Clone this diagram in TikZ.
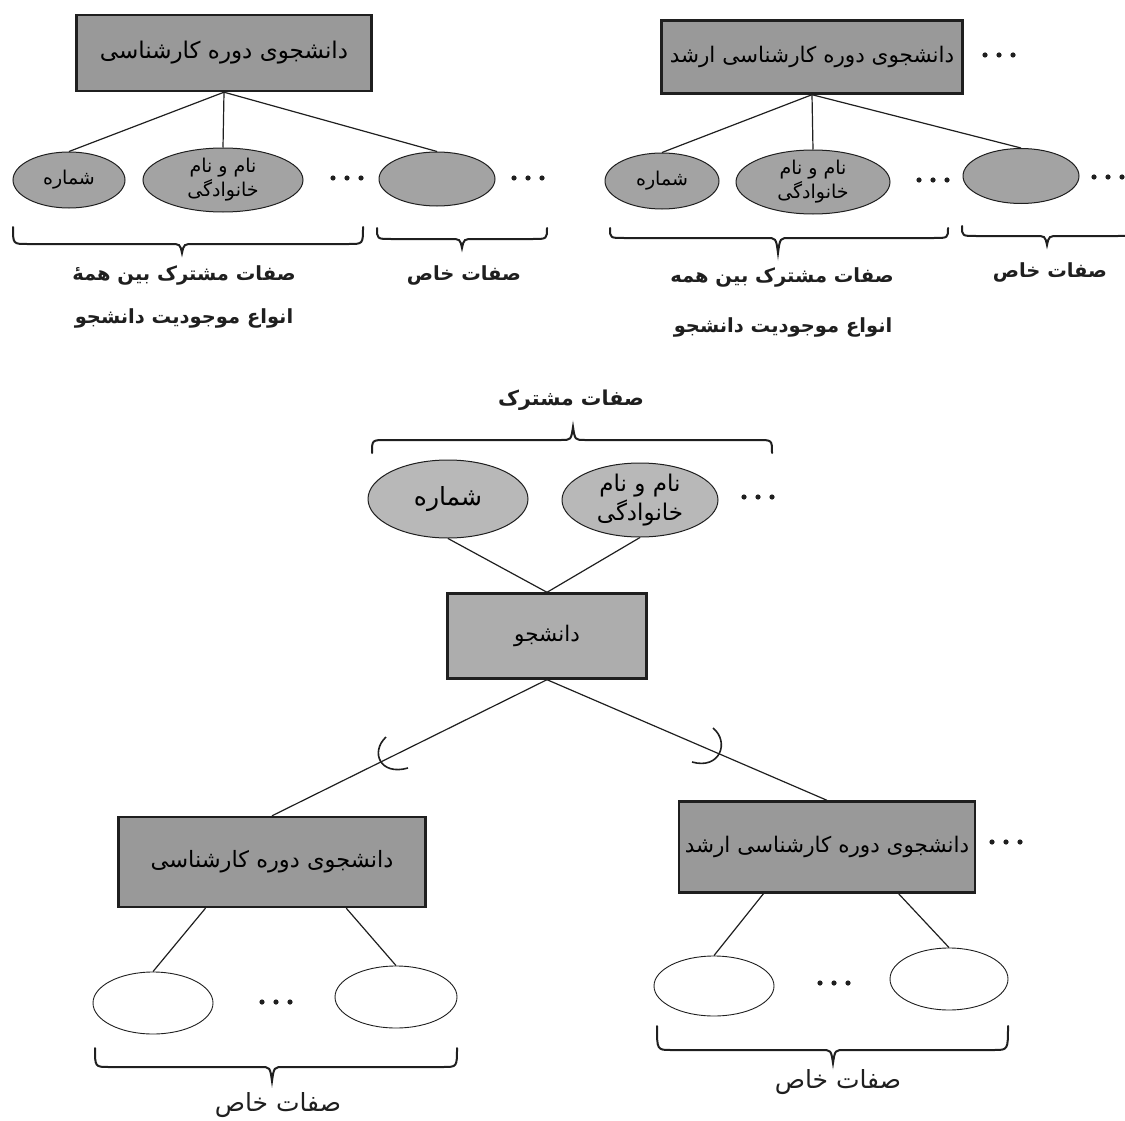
\documentclass[tikz,border=0pt]{standalone}
\usepackage{fontspec}
\usetikzlibrary{shapes.geometric,calc}
\newfontfamily\arabicfont[Script=Arabic]{DejaVu Sans}
\TeXXeTstate=1
\newcommand\fa[1]{{\arabicfont\beginR #1\endR}}
\definecolor{rectfill}{gray}{0.60}
\definecolor{ellfill}{gray}{0.64}
\definecolor{midell}{gray}{0.72}
\definecolor{midrect}{gray}{0.68}
\definecolor{ink}{gray}{0.12}
% brace: x1, x2, y of ends, y of bar, x of tip, y of tip
\newcommand\bracepath[6]{%
  \draw[bracestyle] (#1,#3) .. controls (#1,#4) .. (#1+14,#4) -- (#5-12,#4)
    .. controls (#5-2,#4) .. (#5,#6) .. controls (#5+2,#4) .. (#5+12,#4)
    -- (#2-14,#4) .. controls (#2,#4) .. (#2,#3);}
\newcommand\threedots[2]{%
  \fill[ink] (#1-14,#2) circle[radius=2.6pt] (#1,#2) circle[radius=2.6pt] (#1+14,#2) circle[radius=2.6pt];}
\begin{document}
\begin{tikzpicture}[x=1pt,y=-1pt,
  ent/.style={rectangle,draw=ink,line width=2.4pt,fill=rectfill,inner sep=0pt,
    font=\fontsize{21.5}{24}\selectfont},
  attr/.style={ellipse,draw=ink,line width=1pt,fill=ellfill,inner sep=0pt,align=center,
    font=\fontsize{19}{24}\selectfont},
  bigattr/.style={ellipse,draw=ink,line width=1pt,fill=midell,inner sep=0pt,align=center,
    font=\fontsize{23}{29}\selectfont},
  wattr/.style={ellipse,draw=ink,line width=0.9pt,fill=white,inner sep=0pt},
  conn/.style={draw=ink,line width=1.2pt},
  bracestyle/.style={draw=ink,line width=2pt,line cap=round},
  lbl/.style={font=\bfseries\fontsize{19.5}{22}\selectfont,inner sep=0pt,text=ink},
  lblr/.style={font=\fontsize{25}{28}\selectfont,inner sep=0pt,text=ink}]
\useasboundingbox (0,0) rectangle (1125,1121);

% ---------- top left ----------
\node[ent,minimum width=295pt,minimum height=76pt,font=\fontsize{23}{26}\selectfont] (tlE) at (224,53) {\fa{دانشجوی دوره کارشناسی}};
\node[attr,minimum width=112pt,minimum height=56pt] (tlA1) at (69,180) {\fa{شماره}};
\node[attr,minimum width=160pt,minimum height=64pt] (tlA2) at (223,180) {\fa{نام و نام}\\\fa{خانوادگی}};
\node[attr,minimum width=116pt,minimum height=54pt] (tlA3) at (437,179) {};
\draw[conn] (tlE.south) -- (tlA1.north);
\draw[conn] (tlE.south) -- (tlA2.north);
\draw[conn] (tlE.south) -- (tlA3.north);
\threedots{347}{178}
\threedots{528}{178}
\bracepath{13}{363}{227}{244}{182}{253}
\bracepath{377}{547}{228}{239}{462}{248}
\node[lbl] (tlL1) at (184,275) {\fa{صفات مشترک بین همهٔ}};
\node[lbl] (tlL2) at (184,318) {\fa{انواع موجودیت دانشجو}};
\node[lbl] (tlL3) at (464,275) {\fa{صفات خاص}};

% ---------- top right ----------
\node[ent,minimum width=301pt,minimum height=73pt] (trE) at (812,57) {\fa{دانشجوی دوره کارشناسی ارشد}};
\node[attr,minimum width=114pt,minimum height=56pt] (trA1) at (662,181) {\fa{شماره}};
\node[attr,minimum width=154pt,minimum height=64pt] (trA2) at (813,182) {\fa{نام و نام}\\\fa{خانوادگی}};
\node[attr,minimum width=116pt,minimum height=55pt] (trA3) at (1021,176) {};
\draw[conn] (trE.south) -- (trA1.north);
\draw[conn] (trE.south) -- (trA2.north);
\draw[conn] (trE.south) -- (trA3.north);
\threedots{999}{55}
\threedots{933}{180}
\threedots{1108}{177}
\bracepath{610}{948}{228}{238}{778}{253}
\bracepath{962}{1132}{226}{236}{1047}{245}
\node[lbl] (trL1) at (782,277) {\fa{صفات مشترک بین همه}};
\node[lbl] (trL2) at (783,327) {\fa{انواع موجودیت دانشجو}};
\node[lbl] (trL3) at (1050,272) {\fa{صفات خاص}};

% ---------- middle ----------
\node[lbl,font=\bfseries\fontsize{20.5}{23}\selectfont] (mL) at (571,400) {\fa{صفات مشترک}};
\bracepath{372}{772}{453}{440}{573}{427}
\node[bigattr,minimum width=160pt,minimum height=78pt,font=\fontsize{25}{28}\selectfont] (mA1) at (448,499) {\fa{شماره}};
\node[bigattr,minimum width=156pt,minimum height=74pt] (mA2) at (640,500) {\fa{نام و نام}\\\fa{خانوادگی}};
\threedots{758}{497}
\node[ent,fill=midrect,minimum width=199pt,minimum height=85pt] (dj) at (547,636) {\fa{دانشجو}};
\draw[conn] (mA1.south) -- (dj.north);
\draw[conn] (mA2.south) -- (dj.north);

% ---------- bottom left ----------
\node[ent,minimum width=307pt,minimum height=90pt,font=\fontsize{22.5}{25}\selectfont] (blE) at (272,862) {\fa{دانشجوی دوره کارشناسی}};
\node[wattr,minimum width=120pt,minimum height=62pt] (bl1) at (153,1003) {};
\node[wattr,minimum width=122pt,minimum height=62pt] (bl2) at (396,997) {};
\threedots{276}{1002}
\draw[conn] (dj.south) -- (blE.north);
\draw[conn] ($(blE.south west)!0.285!(blE.south east)$) -- (bl1.north);
\draw[conn] ($(blE.south west)!0.74!(blE.south east)$) -- (bl2.north);
\draw[conn,line width=1.6pt] (386,737) .. controls (370,752) and (380,776) .. (408,768);
\bracepath{95}{457}{1048}{1067}{272}{1081}
\node[lblr] (blL) at (278,1105) {\fa{صفات خاص}};

% ---------- bottom right ----------
\node[ent,minimum width=296pt,minimum height=91pt] (brE) at (827,847) {\fa{دانشجوی دوره کارشناسی ارشد}};
\threedots{1006}{842}
\node[wattr,minimum width=120pt,minimum height=60pt] (br1) at (714,986) {};
\node[wattr,minimum width=118pt,minimum height=62pt] (br2) at (949,979) {};
\threedots{834}{983}
\draw[conn] (dj.south) -- (brE.north);
\draw[conn] ($(brE.south west)!0.287!(brE.south east)$) -- (br1.north);
\draw[conn] ($(brE.south west)!0.74!(brE.south east)$) -- (br2.north);
\draw[conn,line width=1.6pt] (713,728) .. controls (730,742) and (720,770) .. (692,762);
\bracepath{657}{1008}{1026}{1050}{833}{1063}
\node[lblr] (brL) at (838,1082) {\fa{صفات خاص}};
\end{tikzpicture}
\end{document}
